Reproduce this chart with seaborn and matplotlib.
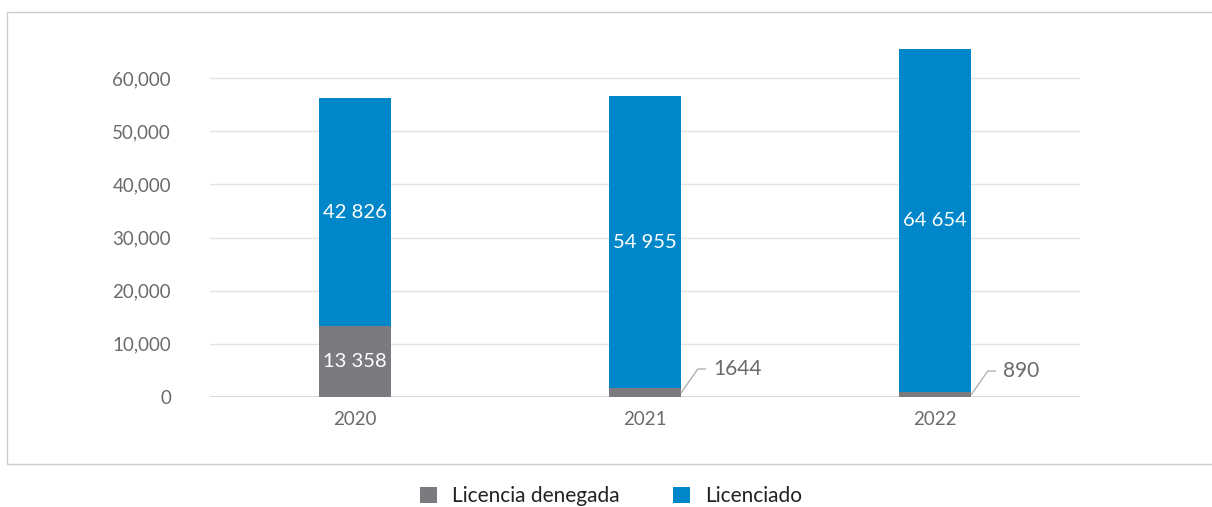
import matplotlib
matplotlib.use("Agg")
import matplotlib.pyplot as plt
import seaborn as sns
import pandas as pd
from matplotlib.patches import Rectangle, Patch
from matplotlib.ticker import FuncFormatter

years = ["2020", "2021", "2022"]
denegada = [13358, 1644, 890]
licenciado = [42826, 54955, 64654]
yticks = [0, 10000, 20000, 30000, 40000, 50000, 60000]
series_names = ["Licencia denegada", "Licenciado"]

GRAY = "#7b7a7f"
BLUE = "#0087c9"

sns.set_theme(style="white")
plt.rcParams["font.family"] = ["Lato", "DejaVu Sans"]

df = pd.DataFrame({"year": years, "den": denegada, "lic": licenciado})
df["total"] = df["den"] + df["lic"]

fig = plt.figure(figsize=(12.12, 5.07), dpi=100)
ax = fig.add_axes([210 / 1212, 110 / 507, 870 / 1212, 372 / 507])

sns.barplot(data=df, x="year", y="total", color=BLUE, width=0.25, saturation=1, ax=ax,
            zorder=3, linewidth=0)
sns.barplot(data=df, x="year", y="den", color=GRAY, width=0.25, saturation=1, ax=ax,
            zorder=3, linewidth=0)

ax.set_xlim(-0.5, 2.5)
ax.set_ylim(0, 70000)
ax.set_yticks(yticks)
ax.yaxis.set_major_formatter(FuncFormatter(lambda v, p: f"{int(v):,}"))
ax.grid(axis="y", color="#e3e3e3", linewidth=1, zorder=0)
ax.grid(axis="x", visible=False)
for s in ax.spines.values():
    s.set_visible(False)
ax.axhline(0, color="#d4d4d4", linewidth=1.2, zorder=2)
ax.set_xlabel("")
ax.set_ylabel("")
ax.tick_params(axis="y", length=0, pad=28, labelsize=13.5, labelcolor="#6b6b6b")
ax.tick_params(axis="x", length=0, pad=10, labelsize=13.5, labelcolor="#6b6b6b")

def fmt(v):
    return f"{v:,}".replace(",", " ")

half = 0.125
for i, (d, l) in enumerate(zip(denegada, licenciado)):
    ax.text(i, d + l / 2, fmt(l), ha="center", va="center", color="white", fontsize=14.5, zorder=5)
    if d > 5000:
        ax.text(i, d / 2, fmt(d), ha="center", va="center", color="white", fontsize=14.5, zorder=5)
    else:
        ax.annotate(str(d), xy=(i + half, d / 2), xytext=(23, 17), textcoords="offset points",
                    ha="left", va="center", color="#6b6b6b", fontsize=15,
                    arrowprops=dict(arrowstyle="-", color="#aaaaaa", lw=0.9,
                                    connectionstyle="angle,angleA=0,angleB=55,rad=0",
                                    shrinkA=3, shrinkB=0))

# outer border box
fig.patches.append(Rectangle((7 / 1212, 43 / 507), 1.2, 452 / 507, transform=fig.transFigure,
                             fill=False, edgecolor="#cccccc", linewidth=1, figure=fig))

handles = [Patch(facecolor=GRAY, edgecolor="none"), Patch(facecolor=BLUE, edgecolor="none")]
fig.legend(handles, series_names, loc="center", bbox_to_anchor=(611 / 1212, 1 - 496 / 507),
           ncol=2, frameon=False, fontsize=15, handlelength=0.8, handleheight=0.8,
           columnspacing=2.6, handletextpad=0.7, labelcolor="#222222")

fig.savefig("out.png", dpi=100)
